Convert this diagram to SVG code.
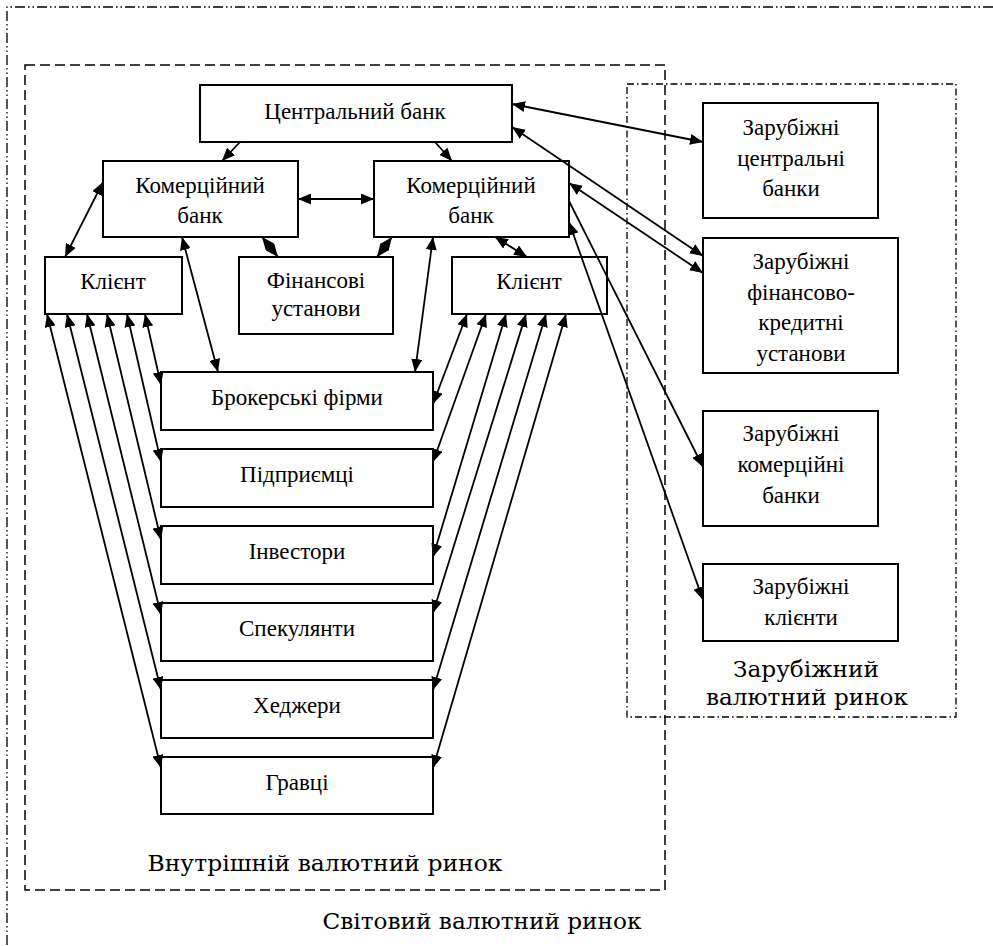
<svg xmlns="http://www.w3.org/2000/svg" width="993" height="946" viewBox="0 0 993 946">
<style>
.box{fill:#fff;stroke:#000;stroke-width:2}
.t{font-family:'Liberation Serif',serif;font-size:23px;text-anchor:middle;fill:#000}
.lbl{font-family:'DejaVu Serif',serif;font-size:22px;text-anchor:middle;fill:#000}
.c{fill:none;stroke:#000;stroke-width:1.8}
.b{marker-start:url(#ah);marker-end:url(#ah)}
.e{marker-end:url(#ah)}
</style>
<defs>
<marker id="ah" markerUnits="userSpaceOnUse" markerWidth="13" markerHeight="11" refX="13" refY="5.5" orient="auto-start-reverse">
<path d="M0,0 L13,5.5 L0,11 z" fill="#000"/>
</marker>
</defs>
<rect width="993" height="946" fill="#fff"/>
<g id="regions">
<path d="M993,7 H7 V946" fill="none" stroke="#000" stroke-width="1.3" stroke-dasharray="10 3 1.5 3 1.5 3"/>
<rect x="25" y="65" width="640" height="825" fill="none" stroke="#000" stroke-width="1.5" stroke-dasharray="10 5"/>
<rect x="627" y="84" width="329" height="633" fill="none" stroke="#000" stroke-width="1.3" stroke-dasharray="7 3 1.5 3"/>
<g font-family="DejaVu Serif" class="lbl">
<text class="lbl" font-family="DejaVu Serif" x="325" y="871" textLength="355" lengthAdjust="spacingAndGlyphs">Внутрішній валютний ринок</text>
<text class="lbl" font-family="DejaVu Serif" x="482" y="929" textLength="319" lengthAdjust="spacingAndGlyphs">Світовий валютний ринок</text>
<text class="lbl" font-family="DejaVu Serif" x="806" y="677" textLength="146" lengthAdjust="spacingAndGlyphs">Зарубіжний</text>
<text class="lbl" font-family="DejaVu Serif" x="807" y="705" textLength="202" lengthAdjust="spacingAndGlyphs">валютний ринок</text>
</g>
</g>
<g font-family="Liberation Serif">
<g id="central-bank"><rect class="box" x="200" y="85" width="312" height="57"/><text class="t" x="355" y="119">Центральний банк</text></g>
<g id="commercial-bank-1"><rect class="box" x="103" y="161" width="195" height="76"/><text class="t" x="200" y="193">Комерційний</text><text class="t" x="200" y="223">банк</text></g>
<g id="commercial-bank-2"><rect class="box" x="374" y="161" width="195" height="76"/><text class="t" x="471" y="193">Комерційний</text><text class="t" x="471" y="223">банк</text></g>
<g id="client-1"><rect class="box" x="45" y="257" width="137" height="57"/><text class="t" x="113" y="289">Клієнт</text></g>
<g id="financial-institutions"><rect class="box" x="239" y="257" width="154" height="77"/><text class="t" x="316" y="288">Фінансові</text><text class="t" x="316" y="316">установи</text></g>
<g id="client-2"><rect class="box" x="452" y="257" width="155" height="57"/><text class="t" x="529" y="289">Клієнт</text></g>
<g id="brokers"><rect class="box" x="161" y="372" width="272" height="58"/><text class="t" x="297" y="405">Брокерські фірми</text></g>
<g id="entrepreneurs"><rect class="box" x="161" y="449" width="272" height="58"/><text class="t" x="297" y="482">Підприємці</text></g>
<g id="investors"><rect class="box" x="161" y="526" width="272" height="58"/><text class="t" x="297" y="559">Інвестори</text></g>
<g id="speculators"><rect class="box" x="161" y="603" width="272" height="58"/><text class="t" x="297" y="636">Спекулянти</text></g>
<g id="hedgers"><rect class="box" x="161" y="680" width="272" height="58"/><text class="t" x="297" y="713">Хеджери</text></g>
<g id="gamblers"><rect class="box" x="161" y="757" width="272" height="57"/><text class="t" x="297" y="790">Гравці</text></g>
<g id="foreign-central-banks"><rect class="box" x="703" y="103" width="175" height="115"/><text class="t" x="791" y="135">Зарубіжні</text><text class="t" x="791" y="166">центральні</text><text class="t" x="791" y="196">банки</text></g>
<g id="foreign-financial-institutions"><rect class="box" x="703" y="238" width="195" height="135"/><text class="t" x="801" y="269">Зарубіжні</text><text class="t" x="801" y="300">фінансово-</text><text class="t" x="801" y="330">кредитні</text><text class="t" x="801" y="361">установи</text></g>
<g id="foreign-commercial-banks"><rect class="box" x="703" y="411" width="175" height="115"/><text class="t" x="791" y="441">Зарубіжні</text><text class="t" x="791" y="472">комерційні</text><text class="t" x="791" y="503">банки</text></g>
<g id="foreign-clients"><rect class="box" x="703" y="564" width="195" height="77"/><text class="t" x="801" y="594">Зарубіжні</text><text class="t" x="801" y="625">клієнти</text></g>
</g>
<g id="connectors">
<path class="c e" d="M240,142 L222,161"/>
<path class="c e" d="M435,142 L452,161"/>
<path class="c b" d="M298,199 L374,199"/>
<path class="c b" d="M103,182 L65,257"/>
<path class="c b" d="M262,237 L278,257"/>
<path class="c b" d="M392,237 L377,257"/>
<path class="c b" d="M495,237 L527,257"/>
<path class="c b" d="M182,237 L218,372"/>
<path class="c b" d="M433,237 L415,372"/>
<path class="c b" d="M512,104 L703,142"/>
<path class="c b" d="M512,127 L703,256"/>
<path class="c b" d="M569,183 L703,273"/>
<path class="c e" d="M569,201 L703,467"/>
<path class="c b" d="M569,222 L703,600"/>
<path class="c b" d="M145,314 L161,385"/>
<path class="c b" d="M127,314 L161,462"/>
<path class="c b" d="M107,314 L161,540"/>
<path class="c b" d="M87,314 L161,615"/>
<path class="c b" d="M67,314 L161,690"/>
<path class="c b" d="M47,314 L161,768"/>
<path class="c b" d="M467,314 L433,404"/>
<path class="c b" d="M486,314 L433,462"/>
<path class="c b" d="M506,314 L433,557"/>
<path class="c b" d="M526,314 L433,613"/>
<path class="c b" d="M546,314 L433,690"/>
<path class="c b" d="M566,314 L433,768"/>
</g>
</svg>
